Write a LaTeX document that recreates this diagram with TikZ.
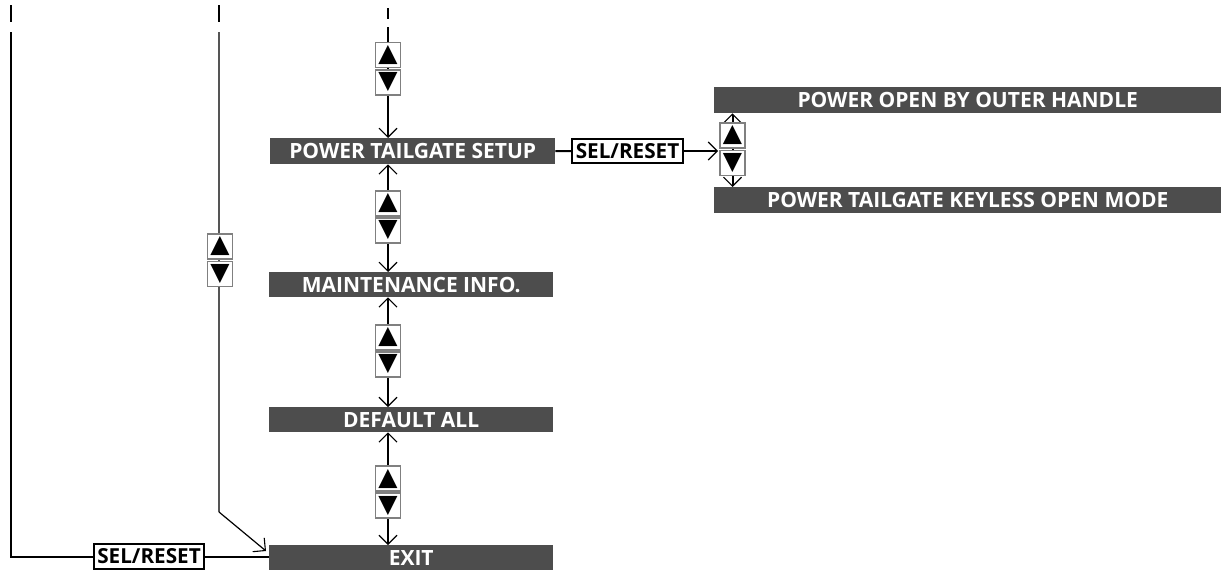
\documentclass[tikz,border=0pt]{standalone}
\usepackage{fontspec}
\newfontfamily\labfont{Open Sans}
\newfontfamily\symfont{DejaVu Sans}
\usetikzlibrary{arrows.meta}
\pgfdeclarelayer{bg}
\pgfsetlayers{bg,main}
\definecolor{barc}{RGB}{77,77,77}
\definecolor{udgray}{RGB}{128,128,128}
\definecolor{lineb}{RGB}{85,85,85}
\tikzset{
  bar/.style={fill=barc, text=white, inner sep=0pt, anchor=north west,
    font=\labfont\bfseries\fontsize{21}{21}\selectfont},
  selbox/.style={draw=black, line width=1.2pt, fill=white, text=black, inner sep=0pt,
    minimum height=24pt, font=\labfont\bfseries\fontsize{20.7}{21}\selectfont},
  udbox/.style={draw=udgray, line width=1.2pt, fill=white, inner sep=0pt,
    minimum width=25pt, minimum height=25pt, font=\symfont\fontsize{25}{25}\selectfont},
  conn/.style={line width=2pt, black},
  barb/.style={-{Straight Barb[length=9pt,width=18pt,line width=1.1pt]}},
  barbs/.style={{Straight Barb[length=9pt,width=18pt,line width=1.1pt]}-{Straight Barb[length=9pt,width=18pt,line width=1.1pt]}},
}
\begin{document}
\begin{tikzpicture}[x=1pt,y=-1pt]
\useasboundingbox (0,0) rectangle (1223,570);
% bars
\node[bar, minimum width=285pt, minimum height=26pt] (setup) at (270,138) {POWER TAILGATE SETUP};
\node[bar, minimum width=284pt, minimum height=25pt] (maint) at (269,272) {MAINTENANCE INFO.};
\node[bar, minimum width=284pt, minimum height=25pt] (dflt) at (269,407) {DEFAULT ALL};
\node[bar, minimum width=284pt, minimum height=25pt] (exit) at (269,545) {EXIT};
\node[bar, minimum width=507pt, minimum height=26pt] (outer) at (714,87) {POWER OPEN BY OUTER HANDLE};
\node[bar, minimum width=507pt, minimum height=26pt] (keyless) at (714,187) {POWER TAILGATE KEYLESS OPEN MODE};
% SEL/RESET boxes
\node[selbox, minimum width=111pt] (selR) at (627.5,151) {SEL/RESET};
\node[selbox, minimum width=110pt, minimum height=25pt] (selL) at (149,556.5) {SEL/RESET};
% up/down boxes
\node[udbox] (u1) at (388,55) {▲};
\node[udbox] (d1) at (388,82.5) {▼};
\node[udbox] (u2) at (388,203.5) {▲};
\node[udbox] (d2) at (388,230.5) {▼};
\node[udbox] (u3) at (388,337.5) {▲};
\node[udbox] (d3) at (388,364.5) {▼};
\node[udbox] (u4) at (388,478.5) {▲};
\node[udbox] (d4) at (388,505.5) {▼};
\node[udbox] (uL) at (220,246.5) {▲};
\node[udbox] (dL) at (220,274) {▼};
\node[udbox] (uR) at (732.5,135.5) {▲};
\node[udbox] (dR) at (732.5,163) {▼};
% coordinates
\coordinate (cTopA) at (388,8);
\coordinate (cTopB) at (388,19);
\coordinate (cStart) at (388,27);
\coordinate (aTopA) at (11,5);
\coordinate (aTopB) at (11,22);
\coordinate (aStart) at (11,32);
\coordinate (bTopA) at (219,5);
\coordinate (bTopB) at (219,22);
\coordinate (bStart) at (219,32);
\coordinate (bBend) at (219,512);
\coordinate (bTip) at (266,551);
\coordinate (rTip) at (718,151);
\begin{pgfonlayer}{bg}
% centre column
\draw[conn] (cTopA) -- (cTopB);
\draw[conn, barb] (cStart) -- (setup.north -| cStart);
\draw[conn, barbs] (setup.south -| cStart) -- (maint.north -| cStart);
\draw[conn, barbs] (maint.south -| cStart) -- (dflt.north -| cStart);
\draw[conn, barbs] (dflt.south -| cStart) -- (exit.north -| cStart);
% right branch
\draw[conn] (setup.east) -- (selR.west);
\draw[conn, barb] (selR.east) -- (rTip);
\draw[conn, barbs] (outer.south -| uR) -- (keyless.north -| uR);
% left line A
\draw[conn] (aTopA) -- (aTopB);
\draw[conn] (aStart) |- (selL.west);
\draw[conn] (selL.east) -- (selL.east -| exit.west);
% left line B
\draw[line width=2pt, black] (bTopA) -- (bTopB);
\draw[line width=1.6pt, lineb] (bStart) -- (bBend);
\draw[line width=1.2pt, black, -{Straight Barb[length=9pt,width=18pt,line width=1.1pt]}] (bBend) -- (bTip);
\end{pgfonlayer}
\end{tikzpicture}
\end{document}
